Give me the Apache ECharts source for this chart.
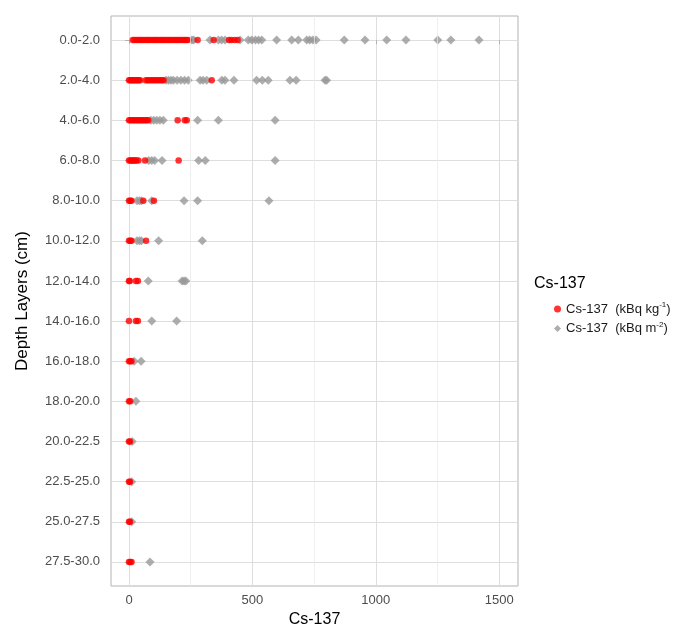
<!DOCTYPE html>
<html>
<head>
<meta charset="utf-8">
<script src="https://cdn.jsdelivr.net/npm/echarts@6/dist/echarts.min.js"></script>
<style>html,body{margin:0;padding:0;background:#fff;}#c{width:683px;height:626px;}</style>
</head>
<body>
<div id="c"></div>
<script>
// Depth layer categories (top to bottom)
var depthLayers = ['0.0-2.0','2.0-4.0','4.0-6.0','6.0-8.0','8.0-10.0','10.0-12.0','12.0-14.0','14.0-16.0','16.0-18.0','18.0-20.0','20.0-22.5','22.5-25.0','25.0-27.5','27.5-30.0'];

// Cs-137 (kBq kg-1) values per layer (red)
var kgRow0 = [15,22,30,38,45,52,60,68,75,82,90,98,105,112,120,128,135,142,150,158,165,172,180,188,195,202,210,218,225,232,240,278,343,405,415,428,440];
var kgRow1 = [0,5,10,15,20,25,30,35,40,45,68,75,82,90,97,105,112,120,127,134,140,335];
var kgRow2 = [0,6,12,18,24,30,36,42,48,54,60,66,72,78,197,226,234];
var kgRow3 = [0,5,10,15,20,25,30,38,65,201];
var kgRow4 = [0,5,10,58,101];
var kgRow5 = [0,5,10,69];
var kgRow6 = [0,3,28,36];
var kgRow7 = [0,28,36];
var kgRow8 = [0,5,10];
var kgRow9 = [0,5];
var kgRow10 = [0,4];
var kgRow11 = [0,4];
var kgRow12 = [0,4];
var kgRow13 = [0,5,10];

// Cs-137 (kBq m-2) values per layer (grey)
var m2Row0 = [255,262,328,362,375,389,450,483,497,512,525,538,598,659,686,720,732,745,758,872,956,1044,1122,1251,1304,1418];
var m2Row1 = [150,160,170,180,195,210,225,240,288,300,315,376,389,425,517,540,564,652,677,794,801];
var m2Row2 = [88,100,112,125,139,278,362,592];
var m2Row3 = [80,92,104,134,282,309,592];
var m2Row4 = [32,42,50,92,223,278,567];
var m2Row5 = [32,42,50,120,297];
var m2Row6 = [78,215,223,230];
var m2Row7 = [92,193];
var m2Row8 = [21,49];
var m2Row9 = [28];
var m2Row10 = [13];
var m2Row11 = [11];
var m2Row12 = [11];
var m2Row13 = [85];

var xMajorTicks = [0, 500, 1000, 1500];
var xMinorTicks = [250, 750, 1250];

var kgRows = [kgRow0,kgRow1,kgRow2,kgRow3,kgRow4,kgRow5,kgRow6,kgRow7,kgRow8,kgRow9,kgRow10,kgRow11,kgRow12,kgRow13];
var m2Rows = [m2Row0,m2Row1,m2Row2,m2Row3,m2Row4,m2Row5,m2Row6,m2Row7,m2Row8,m2Row9,m2Row10,m2Row11,m2Row12,m2Row13];

function toPoints(rows){
  var out = [];
  rows.forEach(function(r, i){ r.forEach(function(v){ out.push([v, i]); }); });
  return out;
}
var rowIdx = depthLayers.map(function(_, i){ return i; });

var nameKg = 'Cs-137 (kBq kg-1)';
var nameM2 = 'Cs-137 (kBq m-2)';
var FONT = 'Liberation Sans, Arial, sans-serif';

var chart = echarts.init(document.getElementById('c'), null, {renderer: 'canvas'});
chart.setOption({
  backgroundColor: '#ffffff',
  animation: false,
  textStyle: {fontFamily: FONT},
  title: {
    text: 'Cs-137', left: 529, top: 271,
    textStyle: {fontFamily: FONT, fontSize: 16, fontWeight: 'normal', color: '#000'}
  },
  legend: {
    orient: 'vertical', left: 549, top: 296,
    itemWidth: 7, itemHeight: 7, itemGap: 5,
    data: [nameKg, nameM2],
    formatter: function(n){
      if (n === nameKg) return '{a|Cs-137  (kBq kg}{s|-1}{a|)}';
      return '{a|Cs-137  (kBq m}{s|-2}{a|)}';
    },
    textStyle: {
      fontFamily: FONT, fontSize: 13, color: '#1a1a1a',
      rich: {
        a: {fontFamily: FONT, fontSize: 13, color: '#1a1a1a', lineHeight: 16},
        s: {fontFamily: FONT, fontSize: 8, color: '#1a1a1a', verticalAlign: 'top', lineHeight: 10}
      }
    }
  },
  grid: {left: 111, right: 165, top: 16, bottom: 40, outerBoundsMode: 'none', containLabel: false,
    show: true, borderColor: '#b3b3b3', borderWidth: 1, backgroundColor: 'transparent'},
  xAxis: {
    type: 'value', min: -73, max: 1576,
    name: 'Cs-137', nameLocation: 'middle', nameGap: 24,
    nameTextStyle: {fontFamily: FONT, fontSize: 16, color: '#000'},
    axisLine: {show: false},
    axisTick: {show: true, length: 4, lineStyle: {color: '#b3b3b3'}, customValues: xMajorTicks},
    axisLabel: {show: true, margin: 8, fontFamily: FONT, fontSize: 13, color: '#4d4d4d', customValues: xMajorTicks,
      formatter: function(v){ return String(v); }},
    splitLine: {show: true, lineStyle: {color: '#dedede', width: 1}}
  },
  yAxis: {
    type: 'value', inverse: true, min: -0.6, max: 13.6,
    name: 'Depth Layers (cm)', nameLocation: 'middle', nameGap: 80, nameRotate: 90,
    nameTextStyle: {fontFamily: FONT, fontSize: 17, color: '#000'},
    axisLine: {show: false},
    axisTick: {show: true, length: 4, lineStyle: {color: '#b3b3b3'}, customValues: rowIdx},
    axisLabel: {show: true, margin: 11, fontFamily: FONT, fontSize: 13, color: '#4d4d4d', customValues: rowIdx,
      formatter: function(v){ return depthLayers[Math.round(v)] || ''; }},
    splitLine: {show: true, lineStyle: {color: '#dedede', width: 1}}
  },
  series: [{
    name: 'minor-grid', type: 'scatter', z: 1, data: [], silent: true,
    markLine: {
      silent: true, symbol: 'none', label: {show: false},
      lineStyle: {color: '#e8e8e8', width: 0.7, type: 'solid'},
      data: xMinorTicks.map(function(v){ return {xAxis: v}; })
    }
  }, {
    name: nameM2, type: 'scatter',
    symbol: 'diamond', symbolSize: 9,
    itemStyle: {color: '#999999'},
    data: toPoints(m2Rows)
  }, {
    name: nameKg, type: 'scatter',
    symbol: 'circle', symbolSize: 6.5,
    itemStyle: {color: '#ff0000'},
    data: toPoints(kgRows)
  }]
});
</script>
</body>
</html>
